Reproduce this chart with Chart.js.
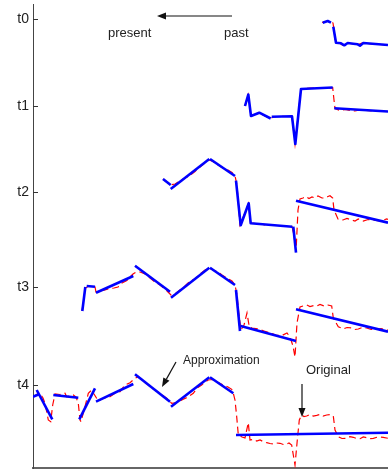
<!DOCTYPE html>
<html>
<head>
<meta charset="utf-8">
<script src="https://cdn.jsdelivr.net/npm/chart.js@4.4.1/dist/chart.umd.min.js"></script>
<style>
  html, body { margin: 0; padding: 0; background: #fff; overflow: hidden; }
  #wrap { width: 388px; height: 470px; }
</style>
</head>
<body>
<div id="wrap"><canvas id="myChart"></canvas></div>
<script>
// rows: t0 (top) .. t4 (bottom), window grows to the left as time goes on
var rowLabels = ["t0", "t1", "t2", "t3", "t4"];
var rowLevels = [449, 362, 276, 181, 83];

// original series (red dashed), [time, value]
var origT0 = [[289,445.5],[293,446.5],[297,447],[300,445],[301,438],[302.5,426],[307,424.5],[310,422.7],[313,425],[317,424.5],[321,424],[325,423.5],[329,425],[335,424.5],[341,424],[347,423.5],[355,423]];

var origT1 = [[212,362],[215,373],[218,352],[222,353.5],[226,355],[232,352],[238,349.5],[240,351],[247,351.7],[253,351.5],[259,351.5],[262,324],[268,379],[277,380],[287,380],[299.7,380.3],[301,368],[302,359.5],[307,357.5],[312,358.5],[317,357.5],[322,357],[327,358],[333,357.5],[339,357],[347,357],[355,356.5]];

var origT2 = [[130,289],[133,286.5],[137,283],[142,284],[147,287],[152,290],[157,292.5],[162,296.5],[167,301],[172,305],[176,308],[180,306.5],[185,303],[190,300],[195,298],[199,295.5],[202,292],[204,283],[207,243],[211.5,254],[215.5,264.5],[217.5,245],[222,244.5],[227,244],[232,243.2],[237,243],[243,242.5],[249,242],[255,241.8],[259,241.5],[261,233],[263,216],[265,258],[267,269],[270,270],[273,271.5],[276,269.5],[279,271],[282,270],[285,272],[289,270],[292,270],[295,271.5],[297,272.3],[299.7,270],[301,258],[305,249],[310,248],[314,249.5],[318.7,248],[322,247],[325.3,249],[330.3,247],[335,248.5],[340.3,248],[347,247],[353.7,249],[355,248.5]];

var origT3 = [[49,157],[51,171],[52.5,180],[55,181.5],[59,181.5],[62,181],[63,176],[67,177],[72,178],[77,179.5],[81,180],[85,181],[89,185],[93,187],[96,189],[98,192],[100,194],[103,196],[107,196],[112,194],[117,190],[122,186],[127,183],[132,179],[135,176],[138,173],[142,174],[147,178],[152,182],[157,187],[162,189],[167,194],[172,198],[176,200],[180,198],[185,196],[189,193],[194,190],[199,187],[202,183],[204,173],[206,153],[208,138],[211,143],[214,155],[216.3,141],[219,140],[225,139],[231,137],[237,135],[243,133],[249,132.5],[254,135],[257,131],[260,122],[262,111],[264,145],[267,161],[270,162],[273.7,163],[277,161.5],[281,162.5],[284,162],[287,163.5],[291,162],[295,163],[298.7,162],[300.3,150],[305.3,141.3],[310.3,139],[314,140.5],[318.7,140],[322,138.5],[325.3,139],[329,140.5],[333.7,140],[338,138.5],[343.7,138.7],[348,139.5],[353.7,138],[355,138]];

var origT4 = [[0,71],[2,72],[5,74.5],[7,74.7],[10,70],[12,64.7],[15.3,48],[17.7,46.3],[19.7,63],[22,74],[27,73.5],[32,74.7],[33.7,71.3],[37,72],[40.3,73],[43,71],[45.3,64.7],[47,48],[48,46.3],[52,61.3],[55.3,74.7],[58.7,78],[61,74],[65.3,67],[70.3,69.7],[77,71.3],[82,74.7],[87,76.3],[92,83],[97,85.3],[102,89.7],[105.3,91.3],[110,87],[115.3,83],[121,78.5],[127,74.7],[133.7,69.7],[138.7,64.7],[143.7,65.3],[150.3,68.7],[155,71],[160.3,74.7],[164,80],[168.7,83],[172,86],[175.3,88],[179,88.5],[183.7,86.3],[190.3,83],[195,81],[198.7,78.7],[200.3,74.7],[202,68],[203.7,51.3],[205.3,33],[209,31],[212,30],[215.3,45.3],[217,28],[220.3,28.7],[223.7,27],[227,28],[230,26.5],[233.7,25.3],[237,24.5],[240.3,24],[243.7,25],[247,24.7],[250.3,23.5],[253.7,24],[256,25],[258.7,23],[260.3,13],[262,3],[264.3,28],[266.3,48],[268.7,53],[271,51.5],[273.7,52],[277,53.5],[280.3,52],[283.7,52.7],[287,53.5],[290,52],[293.7,53],[297,53.5],[300.3,52],[302,38],[305.3,31.3],[309,29.5],[313.7,29.7],[317,31.3],[320.3,30.7],[323.7,29.5],[327,29.3],[330.3,31],[333.7,30.3],[337,29.3],[340.3,29.7],[345,31],[350.3,30.7],[355,29.7]];

// piecewise linear approximations (blue), list of segments per row
var approxT0 = [
  [[289.7,445.3],[294.7,447],[298,445.3]],
  [[300.3,441.3],[303,425.3],[308,424.7],[311.3,422.7],[314.7,425],[320.3,424.3],[324.7,423.7],[327,422.3],[330.3,425],[355,423]]
];
var approxT1 = [
  [[212,362],[215.3,373.5],[218,352],[226.3,355.3],[237.7,349.5]],
  [[238.7,351.3],[259,351.7],[262.3,324],[268,379],[299.7,380.5]],
  [[301.3,359.7],[355,356.5]]
];
var approxT2 = [
  [[130,289],[137.7,283]],
  [[137.7,279],[176.3,309]],
  [[177,309],[202,292]],
  [[203,287.3],[207.7,242.7],[215.7,264.7],[217.7,244.7],[259.3,241.3]],
  [[260.3,241.3],[263,215.3]],
  [[263,267.3],[355,245.3]]
];
var approxT3 = [
  [[49.3,157],[52.3,181]],
  [[53.7,182],[62,181.3]],
  [[63,175.3],[100.3,192]],
  [[102,202.3],[137,176.3]],
  [[138,170.3],[176.3,200.3]],
  [[177,200.3],[202,183]],
  [[203,178],[207,137]],
  [[207.7,142],[263,127]],
  [[263,158.7],[355,136.3]]
];
var approxT4 = [
  [[0,71.3],[6,73.7]],
  [[3.7,78],[19.3,48.7]],
  [[20.3,73],[45.3,70.3]],
  [[46.3,48.7],[62,79.7]],
  [[63,66.3],[100.3,84]],
  [[102,93.7],[137,66.3]],
  [[138,61.3],[176.3,90.7]],
  [[177,90.7],[200.3,74.7]],
  [[203,33],[355,35.3]]
];

var origRows = [origT0, origT1, origT2, origT3, origT4];
var approxRows = [approxT0, approxT1, approxT2, approxT3, approxT4];

// text and arrows, in chart units
var notes = [
  { text: "present", x: 75, y: 431, size: 13 },
  { text: "past", x: 191, y: 431, size: 13 },
  { text: "Approximation", x: 150, y: 104, size: 12 },
  { text: "Original", x: 273, y: 94, size: 13 }
];
var arrows = [
  { from: [199, 452], to: [124, 452] },
  { from: [143, 106], to: [129, 81] },
  { from: [269, 84], to: [269, 51] }
];

var FONT = "'Liberation Sans', Arial, Helvetica, sans-serif";

function toPoints(arr) {
  return arr.map(function (p) { return { x: p[0], y: p[1] }; });
}

var datasets = [];
origRows.forEach(function (row) {
  datasets.push({
    data: toPoints(row),
    showLine: true,
    borderColor: "#ff0000",
    borderWidth: 1.2,
    borderDash: [7, 4],
    pointRadius: 0,
    order: 1
  });
});
// blue drawn on top of the red original
approxRows.forEach(function (segs) {
  segs.forEach(function (seg) {
    datasets.push({
      data: toPoints(seg),
      showLine: true,
      borderColor: "#0000ff",
      borderWidth: 2.6,
      borderJoinStyle: "round",
      pointRadius: 0,
      order: 0
    });
  });
});

var annotate = {
  id: "annotate",
  afterDraw: function (chart) {
    var ctx = chart.ctx, xs = chart.scales.x, ys = chart.scales.y, a = chart.chartArea;
    ctx.save();
    // inward tick marks
    ctx.strokeStyle = "#333";
    ctx.lineWidth = 1;
    rowLevels.forEach(function (v) {
      var py = Math.round(ys.getPixelForValue(v)) + 0.5;
      ctx.beginPath();
      ctx.moveTo(a.left, py);
      ctx.lineTo(a.left + 5, py);
      ctx.stroke();
    });
    // labels
    ctx.fillStyle = "#222";
    ctx.textBaseline = "alphabetic";
    ctx.textAlign = "left";
    notes.forEach(function (n) {
      ctx.font = n.size + "px " + FONT;
      ctx.fillText(n.text, xs.getPixelForValue(n.x), ys.getPixelForValue(n.y));
    });
    // arrows
    ctx.strokeStyle = "#111";
    ctx.fillStyle = "#111";
    ctx.lineWidth = 1.2;
    arrows.forEach(function (ar) {
      var x1 = xs.getPixelForValue(ar.from[0]), y1 = ys.getPixelForValue(ar.from[1]);
      var x2 = xs.getPixelForValue(ar.to[0]), y2 = ys.getPixelForValue(ar.to[1]);
      var ang = Math.atan2(y2 - y1, x2 - x1), L = 9, W = 3.5;
      var bx = x2 - L * Math.cos(ang), by = y2 - L * Math.sin(ang);
      ctx.beginPath();
      ctx.moveTo(x1, y1);
      ctx.lineTo(bx, by);
      ctx.stroke();
      ctx.beginPath();
      ctx.moveTo(x2, y2);
      ctx.lineTo(bx - W * Math.sin(ang), by + W * Math.cos(ang));
      ctx.lineTo(bx + W * Math.sin(ang), by - W * Math.cos(ang));
      ctx.closePath();
      ctx.fill();
    });
    ctx.restore();
  }
};

var ctx = document.getElementById("myChart").getContext("2d");
var myChart = new Chart(ctx, {
  type: "scatter",
  data: { datasets: datasets },
  options: {
    responsive: true,
    maintainAspectRatio: false,
    animation: false,
    layout: { padding: { top: 4, right: 0, bottom: 0, left: 0 } },
    plugins: {
      legend: { display: false },
      tooltip: { enabled: false }
    },
    scales: {
      x: {
        type: "linear",
        min: 0,
        max: 355,
        ticks: { display: false },
        grid: { display: false, drawTicks: false },
        border: { display: true, color: "#666", width: 2 },
        afterFit: function (s) {
          s.height = 2;
          s.paddingLeft = 0;
          s.paddingRight = 0;
        }
      },
      y: {
        type: "linear",
        min: 0,
        max: 464,
        grid: { display: false, drawTicks: false },
        border: { display: true, color: "#444", width: 1 },
        afterBuildTicks: function (s) {
          s.ticks = rowLevels.map(function (v) { return { value: v }; });
        },
        ticks: {
          padding: 4,
          color: "#222",
          font: { family: FONT, size: 14 },
          callback: function (v) { return rowLabels[rowLevels.indexOf(v)]; }
        },
        afterFit: function (s) {
          s.width = 33;
          s.paddingTop = 0;
          s.paddingBottom = 0;
        }
      }
    }
  },
  plugins: [annotate]
});
</script>
</body>
</html>
